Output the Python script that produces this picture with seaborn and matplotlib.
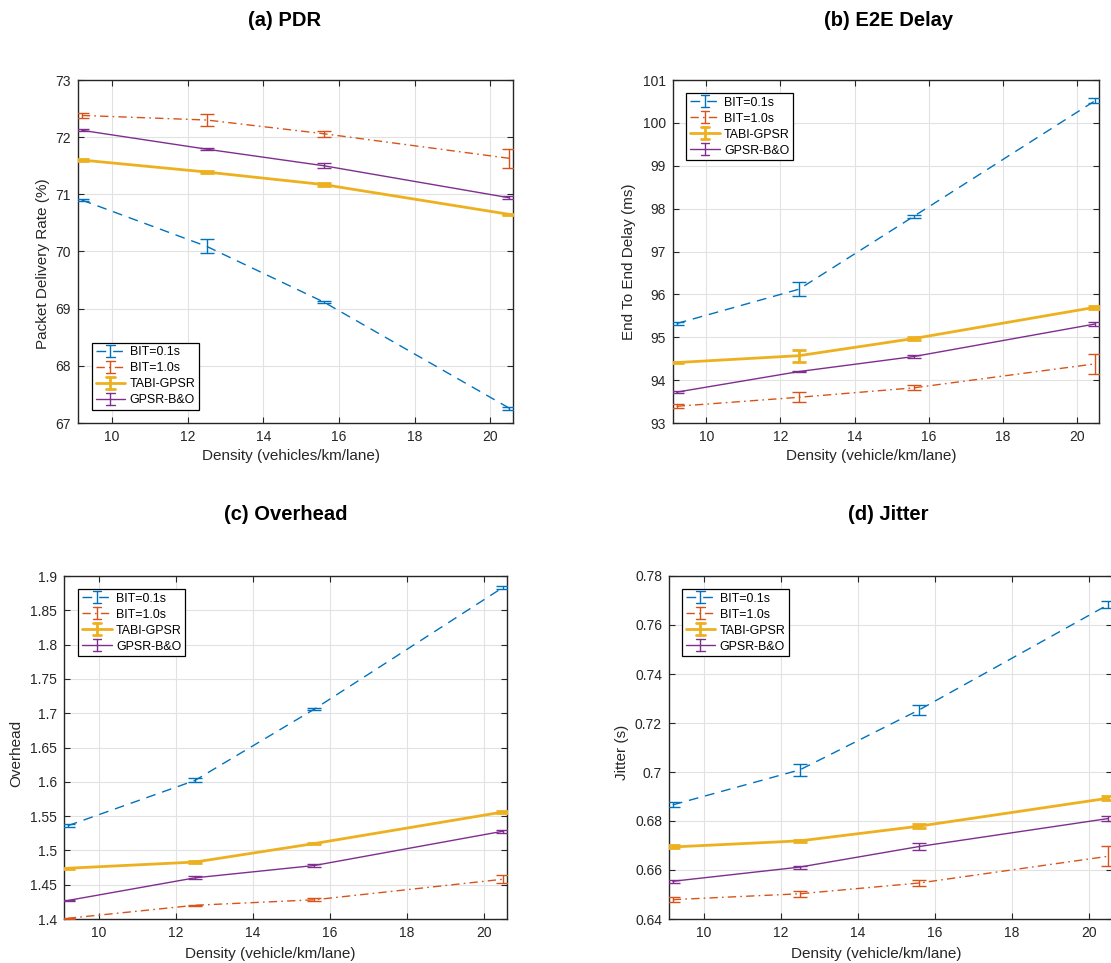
import numpy as np
import pandas as pd
import matplotlib
matplotlib.use("Agg")
import matplotlib.pyplot as plt
from matplotlib.lines import Line2D
from matplotlib.legend_handler import HandlerBase
from matplotlib.ticker import FuncFormatter
import seaborn as sns

# ---------------- data ----------------
density = [9.2, 12.5, 15.6, 20.5]
series = ["BIT=0.1s", "BIT=1.0s", "TABI-GPSR", "GPSR-B&O"]

pdr_mean = {
    "BIT=0.1s": [70.90, 70.09, 69.115, 67.26],
    "BIT=1.0s": [72.38, 72.30, 72.06, 71.63],
    "TABI-GPSR": [71.60, 71.39, 71.17, 70.65],
    "GPSR-B&O": [72.12, 71.79, 71.50, 70.94],
}
pdr_err = {
    "BIT=0.1s": [0.02, 0.12, 0.02, 0.025],
    "BIT=1.0s": [0.04, 0.11, 0.05, 0.17],
    "TABI-GPSR": [0.01, 0.01, 0.02, 0.01],
    "GPSR-B&O": [0.02, 0.015, 0.04, 0.025],
}

delay_mean = {
    "BIT=0.1s": [95.32, 96.12, 97.82, 100.52],
    "BIT=1.0s": [93.39, 93.60, 93.82, 94.38],
    "TABI-GPSR": [94.41, 94.57, 94.97, 95.70],
    "GPSR-B&O": [93.72, 94.20, 94.55, 95.31],
}
delay_err = {
    "BIT=0.1s": [0.03, 0.16, 0.04, 0.05],
    "BIT=1.0s": [0.05, 0.12, 0.06, 0.23],
    "TABI-GPSR": [0.02, 0.14, 0.03, 0.03],
    "GPSR-B&O": [0.02, 0.02, 0.04, 0.04],
}

overhead_mean = {
    "BIT=0.1s": [1.536, 1.602, 1.706, 1.8835],
    "BIT=1.0s": [1.401, 1.420, 1.428, 1.458],
    "TABI-GPSR": [1.474, 1.483, 1.510, 1.556],
    "GPSR-B&O": [1.427, 1.460, 1.478, 1.528],
}
overhead_err = {
    "BIT=0.1s": [0.002, 0.003, 0.001, 0.002],
    "BIT=1.0s": [0.001, 0.001, 0.002, 0.006],
    "TABI-GPSR": [0.001, 0.002, 0.001, 0.001],
    "GPSR-B&O": [0.001, 0.002, 0.002, 0.002],
}

jitter_mean = {
    "BIT=0.1s": [0.6866, 0.7009, 0.7254, 0.7683],
    "BIT=1.0s": [0.6479, 0.6503, 0.6547, 0.6656],
    "TABI-GPSR": [0.6694, 0.6719, 0.6779, 0.6893],
    "GPSR-B&O": [0.6554, 0.6612, 0.6696, 0.6810],
}
jitter_err = {
    "BIT=0.1s": [0.001, 0.0025, 0.002, 0.0015],
    "BIT=1.0s": [0.001, 0.0012, 0.0012, 0.004],
    "TABI-GPSR": [0.0006, 0.0005, 0.0009, 0.0008],
    "GPSR-B&O": [0.0006, 0.0006, 0.0015, 0.0009],
}

# ---------------- style ----------------
sns.set_theme(style="ticks")
plt.rcParams["font.family"] = ["Liberation Sans", "DejaVu Sans"]
INK = (0.15, 0.15, 0.15)

colors = {
    "BIT=0.1s": "#0072BD",
    "BIT=1.0s": "#D95319",
    "TABI-GPSR": "#EDB120",
    "GPSR-B&O": "#7E2F8E",
}
linestyles = {
    "BIT=0.1s": (0, (7, 5)),
    "BIT=1.0s": (0, (6, 3, 1.2, 3)),
    "TABI-GPSR": "-",
    "GPSR-B&O": "-",
}
widths = {"BIT=0.1s": 1.0, "BIT=1.0s": 1.0, "TABI-GPSR": 2.0, "GPSR-B&O": 1.0}


class HandlerLineErrorbar(HandlerBase):
    """Legend key: a line with a capped vertical error bar in its middle."""

    def create_artists(self, legend, orig_handle, xdescent, ydescent,
                       width, height, fontsize, trans):
        color = orig_handle.get_color()
        lw = orig_handle.get_linewidth()
        yc = (height - ydescent) / 2.0
        x0, x1 = -xdescent, -xdescent + width
        xm = (x0 + x1) / 2.0
        half = 4.3
        cap = 3.0
        line = Line2D([x0, x1], [yc, yc], color=color, linewidth=lw,
                      linestyle=orig_handle.get_linestyle())
        dash = orig_handle._unscaled_dash_pattern[1]
        if dash:
            line.set_dashes(dash)
        bar = Line2D([xm, xm], [yc - half, yc + half], color=color, linewidth=lw)
        top = Line2D([xm - cap, xm + cap], [yc + half, yc + half], color=color, linewidth=lw)
        bot = Line2D([xm - cap, xm + cap], [yc - half, yc - half], color=color, linewidth=lw)
        arts = [line, bar, top, bot]
        for a in arts:
            a.set_transform(trans)
        return arts


W, H = 1111, 963
fig = plt.figure(figsize=(W / 100, H / 100), dpi=100)


def px_axes(left, top, right, bottom):
    return fig.add_axes([left / W, 1 - bottom / H, (right - left) / W, (bottom - top) / H])


def panel(ax, means, errs, ylim, yticks, ylabel, xlabel, leg_loc, leg_anchor,
          ylab_xy, xlab_xy):
    handles = []
    for name in series:
        df = pd.DataFrame({"density": density, "value": means[name]})
        sns.lineplot(data=df, x="density", y="value", ax=ax, color=colors[name],
                     linewidth=widths[name], linestyle=linestyles[name],
                     legend=False, zorder=3)
        ax.errorbar(density, means[name], yerr=errs[name], fmt="none",
                    ecolor=colors[name], elinewidth=widths[name],
                    capsize=5, capthick=widths[name], zorder=3)
        handles.append(Line2D([], [], color=colors[name], linewidth=widths[name],
                              linestyle=linestyles[name]))

    ax.set_xlim(9.1, 20.6)
    ax.set_xticks([10, 12, 14, 16, 18, 20])
    ax.set_ylim(*ylim)
    ax.set_yticks(yticks)
    ax.yaxis.set_major_formatter(FuncFormatter(lambda v, _: f"{v:g}"))
    ax.grid(True, color="#e2e2e2", linewidth=0.8, zorder=0)
    ax.set_axisbelow(True)
    for sp in ax.spines.values():
        sp.set_visible(True)
        sp.set_color(INK)
        sp.set_linewidth(1.0)
    ax.tick_params(direction="in", length=4, width=0.8, color=INK,
                   labelcolor=INK, labelsize=10, top=True, right=True, pad=5)

    ax.set_ylabel(ylabel, fontsize=11, color=INK)
    ax.set_xlabel(xlabel, fontsize=11, color=INK)
    ax.yaxis.set_label_coords(*ylab_xy)
    ax.xaxis.set_label_coords(*xlab_xy)

    leg = ax.legend(handles, series, loc=leg_loc, bbox_to_anchor=leg_anchor,
                    borderaxespad=0, fontsize=8.9, frameon=True, fancybox=False,
                    framealpha=1, edgecolor="black", handlelength=2.4,
                    handletextpad=0.35, labelspacing=0.32, borderpad=0.3,
                    handler_map={Line2D: HandlerLineErrorbar()})
    leg.get_frame().set_linewidth(0.9)
    for t in leg.get_texts():
        t.set_color("black")


yt_a = [67, 68, 69, 70, 71, 72, 73]
yt_b = [93, 94, 95, 96, 97, 98, 99, 100, 101]
yt_c = [round(1.4 + 0.05 * i, 2) for i in range(11)]
yt_d = [round(0.64 + 0.02 * i, 2) for i in range(8)]

ax_a = px_axes(78, 80, 513, 423)
panel(ax_a, pdr_mean, pdr_err, (67, 73), yt_a, "Packet Delivery Rate (%)",
      "Density (vehicles/km/lane)", "lower left", (0.032, 0.038),
      (-0.064, 0.464), (0.49, -0.075))

ax_b = px_axes(673, 80, 1099, 423)
panel(ax_b, delay_mean, delay_err, (93, 101), yt_b, "End To End Delay (ms)",
      "Density (vehicle/km/lane)", "upper left", (0.031, 0.962),
      (-0.087, 0.469), (0.465, -0.075))

ax_c = px_axes(64, 576, 507, 919)
panel(ax_c, overhead_mean, overhead_err, (1.4, 1.9), yt_c, "Overhead",
      "Density (vehicle/km/lane)", "upper left", (0.032, 0.962),
      (-0.093, 0.484), (0.465, -0.082))

ax_d = px_axes(669, 576, 1112, 919)
panel(ax_d, jitter_mean, jitter_err, (0.64, 0.78), yt_d, "Jitter (s)",
      "Density (vehicle/km/lane)", "upper left", (0.029, 0.962),
      (-0.090, 0.487), (0.468, -0.082))

titles = [("(a) PDR", 285, 20), ("(b) E2E Delay", 889, 20),
          ("(c) Overhead", 286, 515), ("(d) Jitter", 888, 515)]
for txt, x, y in titles:
    fig.text(x / W, 1 - y / H, txt, ha="center", va="center",
             fontsize=14.5, fontweight="bold", color="black")

fig.savefig("out.png", dpi=100)
